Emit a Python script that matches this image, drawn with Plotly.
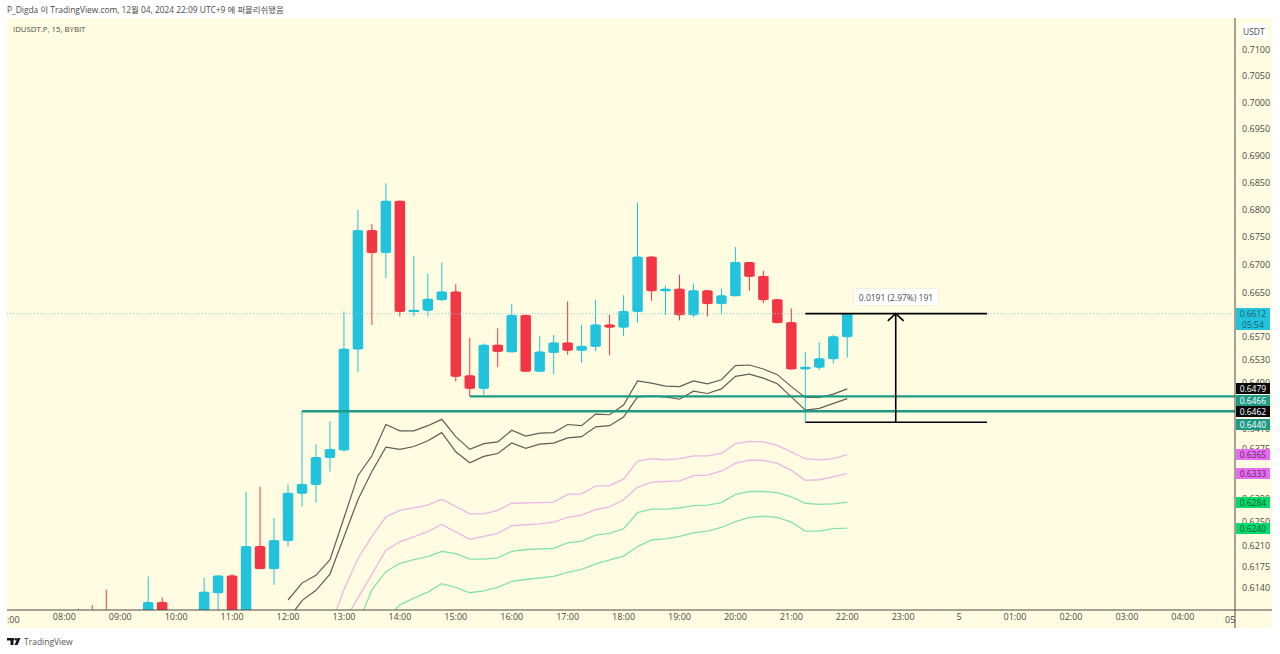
import math
import pandas as pd
import plotly.graph_objects as go

W, H = 1280, 654
L_PX, R_PX, T_PX, B_PX = 7, 1235, 18, 610
BG = "#FFFCE1"
UP = "#22C3DC"
DOWN = "#F23645"
TEAL = "#1F9A84"
TXT = "#4A4A4A"
FONT = "Open Sans, Noto Sans CJK KR, sans-serif"

opens = [.6090,.6095,.6098,.6090,.6095,.6100,.6116,.6085,.6090,.6100,.6132,.6160,.6095,.6209,.6172,.6219,
         .6299,.6314,.6360,.6373,.6549,.6762,.6722,.6816,.6616,.6618,.6637,.6651,.6502,.6480,.6556,.6544,
         .6609,.6510,.6543,.6560,.6547,.6554,.6592,.6588,.6616,.6714,.6653,.6656,.6610,.6653,.6630,.6644,
         .6704,.6679,.6637,.6596,.6514,.6517,.6532,.6571]
highs = [.6106,.6112,.6137,.6100,.6102,.6159,.6124,.6095,.6103,.6157,.6160,.6163,.6302,.6310,.6257,.6314,
         .6440,.6383,.6423,.6616,.6800,.6774,.6849,.6817,.6716,.6684,.6704,.6665,.6569,.6559,.6586,.6629,
         .6610,.6572,.6574,.6634,.6592,.6637,.6610,.6645,.6813,.6715,.6662,.6682,.6666,.6654,.6657,.6732,
         .6705,.6689,.6638,.6621,.6544,.6561,.6575,.6612]
lows = [.6085,.6085,.6085,.6085,.6090,.6095,.6080,.6080,.6085,.6095,.6090,.6090,.6090,.6172,.6145,.6209,
        .6276,.6283,.6336,.6370,.6508,.6592,.6676,.6607,.6607,.6607,.6634,.6492,.6466,.6468,.6517,.6544,
        .6510,.6510,.6505,.6539,.6525,.6545,.6538,.6572,.6596,.6635,.6610,.6600,.6606,.6607,.6610,.6643,
        .6653,.6631,.6595,.6513,.6422,.6512,.6524,.6534]
closes = [.6095,.6090,.6090,.6095,.6100,.6116,.6085,.6090,.6100,.6133,.6160,.6095,.6209,.6172,.6219,.6299,
          .6314,.6360,.6374,.6549,.6762,.6722,.6816,.6616,.6618,.6638,.6651,.6501,.6480,.6556,.6545,.6609,
          .6510,.6544,.6560,.6547,.6554,.6592,.6588,.6616,.6714,.6653,.6656,.6610,.6653,.6630,.6644,.6704,
          .6679,.6637,.6596,.6514,.6517,.6532,.6571,.6612]
times = [t.strftime("%Y-%m-%d %H:%M") for t in pd.date_range("2024-12-04 08:15", periods=len(opens), freq="15min")]

black_upper = [.6120,.6148,.6161,.6187,.6257,.6329,.6363,.6417,.6406,.6406,.6415,.6426,.6396,.6374,.6384,.6387,
               .6407,.6397,.6402,.6403,.6417,.6415,.6435,.6434,.6451,.6493,.6489,.6484,.6483,.6493,.6488,.6495,
               .6520,.6521,.6514,.6504,.6483,.6464,.6464,.6470,.6479]
black_lower = [.6088,.6119,.6136,.6163,.6225,.6288,.6336,.6378,.6374,.6379,.6389,.6403,.6370,.6351,.6362,.6367,
               .6385,.6376,.6383,.6385,.6394,.6396,.6413,.6415,.6430,.6465,.6467,.6465,.6461,.6475,.6471,.6479,
               .6501,.6505,.6498,.6488,.6465,.6442,.6445,.6454,.6462]
pink_upper = [.6075,.6137,.6189,.6226,.6259,.6270,.6274,.6279,.6289,.6276,.6264,.6264,.6270,.6282,.6282,.6283,
              .6284,.6297,.6298,.6311,.6312,.6323,.6354,.6358,.6356,.6358,.6363,.6363,.6367,.6384,.6388,.6387,
              .6381,.6370,.6358,.6356,.6358,.6365]
pink_lower = [.6084,.6124,.6164,.6203,.6217,.6226,.6234,.6246,.6234,.6221,.6226,.6231,.6244,.6245,.6247,.6250,
              .6258,.6262,.6271,.6276,.6288,.6309,.6318,.6319,.6320,.6329,.6330,.6337,.6350,.6356,.6355,.6350,
              .6338,.6321,.6322,.6327,.6333]
green_upper = [.6080,.6137,.6167,.6181,.6187,.6192,.6201,.6197,.6188,.6188,.6190,.6201,.6204,.6205,.6206,.6215,
               .6218,.6228,.6231,.6239,.6266,.6272,.6272,.6274,.6278,.6279,.6283,.6297,.6302,.6302,.6300,.6293,
               .6282,.6280,.6281,.6284]
green_lower = [.6088,.6112,.6123,.6133,.6147,.6141,.6132,.6135,.6141,.6151,.6154,.6157,.6159,.6166,.6171,.6180,
               .6187,.6193,.6209,.6220,.6222,.6226,.6232,.6235,.6241,.6251,.6258,.6260,.6258,.6250,.6235,.6235,
               .6239,.6240]

level_high_start, level_low_start = "2024-12-04 15:15", "2024-12-04 12:15"
level_high, level_low, last_price = .6466, .6440, .6612
x_start, x_end = "2024-12-04 06:58:30", "2024-12-05 04:56:00"
price_bottom, price_top = .61035, .71616

measure_x = ["2024-12-04 21:15", "2024-12-05 00:30"]
measure_top, measure_bottom = .6612, .6421
arrow_time = "2024-12-04 22:52"
head_x = ["2024-12-04 22:43:30", "2024-12-04 22:52", "2024-12-04 23:00:30"]
head_y = [.6599, .6612, .6599]

y_ticks = [.7100,.7050,.7000,.6950,.6900,.6850,.6800,.6750,.6700,.6650,.6570,.6530,.6490,.6410,.6375,.6290,.6250,.6210,.6175,.6140]
x_ticks = ["2024-12-04 %02d:00" % h for h in range(8, 24)] + ["2024-12-05 %02d:00" % h for h in range(0, 5)]
x_labels = ["%02d:00" % h for h in range(8, 24)] + ["5", "01:00", "02:00", "03:00", "04:00"]

fig = go.Figure()

def line(x, y, color, width, dash="solid"):
    fig.add_trace(go.Scatter(x=x, y=y, mode="lines", line=dict(color=color, width=width, dash=dash),
                             hoverinfo="skip", showlegend=False))

line([x_start, x_end], [last_price, last_price], "#86D4CC", 1, "1px,2px")
for arr, col in [(pink_upper, "#EDB6E6"), (pink_lower, "#EDB6E6"), (green_upper, "#86E3A8"), (green_lower, "#86E3A8")]:
    line(times[-len(arr):], arr, col, 1.3)
for arr in (black_upper, black_lower):
    line(times[-len(arr):], arr, "#5E5E58", 1.2)
line([level_low_start, x_end], [level_low, level_low], TEAL, 2.4)
line([level_high_start, x_end], [level_high, level_high], TEAL, 2.4)

fig.add_trace(go.Candlestick(x=times, open=opens, high=highs, low=lows, close=closes,
                             increasing=dict(fillcolor=UP, line=dict(color=UP, width=1)),
                             decreasing=dict(fillcolor=DOWN, line=dict(color=DOWN, width=1)),
                             whiskerwidth=0, showlegend=False, hoverinfo="skip"))
# Wider bodies over the candlestick trace: 10.5 px of the 14 px that 15 minutes span.
fig.add_trace(go.Bar(x=times,
                     y=[abs(c - o) for o, c in zip(opens, closes)],
                     base=[min(o, c) for o, c in zip(opens, closes)],
                     width=675000,
                     marker=dict(color=[UP if c >= o else DOWN for o, c in zip(opens, closes)], line=dict(width=0)),
                     hoverinfo="skip", showlegend=False))

line(measure_x, [measure_top, measure_top], "#000000", 1.6)
line(measure_x, [measure_bottom, measure_bottom], "#000000", 1.6)
line([arrow_time, arrow_time], [measure_bottom, measure_top], "#000000", 1.6)
line(head_x, head_y, "#000000", 1.6)

def px(x): return (x - L_PX) / (R_PX - L_PX)
def py(y): return (B_PX - y) / (B_PX - T_PX)

annotations = []
def page_text(x, y, text, size=9, color=TXT, anchor="left", font=FONT):
    annotations.append(dict(xref="paper", yref="paper", x=px(x), y=py(y), text=text, showarrow=False,
                            xanchor=anchor, yanchor="middle", font=dict(size=size, color=color, family=font),
                            borderpad=0, borderwidth=0))

page_text(7, 9.5, "P_Digda 이 TradingView.com, 12월 04, 2024 22:09 UTC+9 에 퍼블리쉬됐음", 8.4)
page_text(13, 29, "IDUSDT.P, 15, BYBIT", 7.8)
page_text(24, 642, "TradingView", 8.5, "#555555")
page_text(7, 619, ":00", 9)
page_text(1225, 619, "05", 9)

def price_tag(value, text, bg, fg="#FFFFFF", shift=0, h=11):
    annotations.append(dict(xref="paper", yref="y", x=1.0, y=math.log10(value), yshift=shift, text=text,
                            showarrow=False, xanchor="left", yanchor="middle", xshift=1, width=34, height=h,
                            bgcolor=bg, align="center", borderpad=0, borderwidth=0,
                            font=dict(size=8.5, color=fg, family=FONT)))

price_tag(.6612, "0.6612<br>05:54", UP, "#1E5F6B", shift=-5, h=22)
price_tag(.6479, "0.6479", "#0A0A0A")
price_tag(.6466, "0.6466", TEAL, shift=-4)
price_tag(.6462, "0.6462", "#0A0A0A", shift=-13)
price_tag(.6440, "0.6440", TEAL, shift=-13)
price_tag(.6365, "0.6365", "#E86DF2", "#5A2A60")
price_tag(.6333, "0.6333", "#E86DF2", "#5A2A60")
price_tag(.6284, "0.6284", "#06DA6C", "#0B5A30")
price_tag(.6240, "0.6240", "#06DA6C", "#0B5A30")

annotations.append(dict(xref="x", yref="y", x=arrow_time, y=math.log10(.6642), text="0.0191 (2.97%) 191",
                        showarrow=False, bgcolor="#FFFFFF", width=84, height=16, borderpad=0,
                        bordercolor="#F3F0DC", borderwidth=1,
                        font=dict(size=8.5, color=TXT, family=FONT)))
annotations.append(dict(xref="paper", yref="paper", x=px(1254), y=py(31), text="USDT", showarrow=False,
                        xanchor="center", yanchor="middle",
                        bgcolor="#FFFFFF", width=26, height=14, borderpad=0,
                        font=dict(size=8.5, color=TXT, family=FONT)))

shapes = [
    dict(type="rect", xref="paper", yref="paper", x0=px(L_PX), x1=px(1272), y0=py(628), y1=py(T_PX),
         fillcolor=BG, line=dict(width=0), layer="below"),
    dict(type="line", xref="paper", yref="paper", x0=px(L_PX), x1=px(1272), y0=py(B_PX), y1=py(B_PX),
         line=dict(color="#4A4A48", width=1)),
    dict(type="line", xref="paper", yref="paper", x0=px(R_PX), x1=px(R_PX), y0=py(628), y1=py(T_PX),
         line=dict(color="#4A4A48", width=1)),
    dict(type="rect", xref="paper", yref="paper", x0=px(7), x1=px(14), y0=py(640.5), y1=py(638),
         fillcolor="#131722", line=dict(width=0)),
    dict(type="rect", xref="paper", yref="paper", x0=px(10.5), x1=px(13.5), y0=py(645), y1=py(638),
         fillcolor="#131722", line=dict(width=0)),
    dict(type="circle", xref="paper", yref="paper", x0=px(14.5), x1=px(17), y0=py(640.5), y1=py(638),
         fillcolor="#131722", line=dict(width=0)),
    dict(type="path", xref="paper", yref="paper",
         path=f"M {px(17.5)} {py(638)} L {px(20.5)} {py(638)} L {px(17.5)} {py(645)} L {px(14.5)} {py(645)} Z",
         fillcolor="#131722", line=dict(width=0)),
]

fig.update_layout(
    width=W, height=H, autosize=False,
    margin=dict(l=L_PX, r=W - R_PX, t=T_PX, b=H - B_PX, pad=0),
    paper_bgcolor="#FFFFFF", plot_bgcolor=BG,
    showlegend=False, hovermode=False, barmode="overlay",
    font=dict(family=FONT, size=9, color=TXT),
    annotations=annotations, shapes=shapes,
    xaxis=dict(type="date", range=[x_start, x_end], rangeslider=dict(visible=False),
               tickvals=x_ticks, ticktext=x_labels, tickangle=0, tickfont=dict(size=9, color=TXT),
               showgrid=False, zeroline=False, showline=False, ticks="", automargin=False),
    yaxis=dict(type="log", side="right", range=[math.log10(price_bottom), math.log10(price_top)],
               tickvals=y_ticks, ticktext=["%.4f" % v for v in y_ticks], tickfont=dict(size=9, color=TXT),
               ticklabelstandoff=6,
               showgrid=False, zeroline=False, showline=False, ticks="", automargin=False),
)

fig.write_html("out.html", config=dict(displayModeBar=False),
               post_script="document.body.style.margin='0';document.body.style.overflow='hidden';window.dispatchEvent(new Event('resize'));")
